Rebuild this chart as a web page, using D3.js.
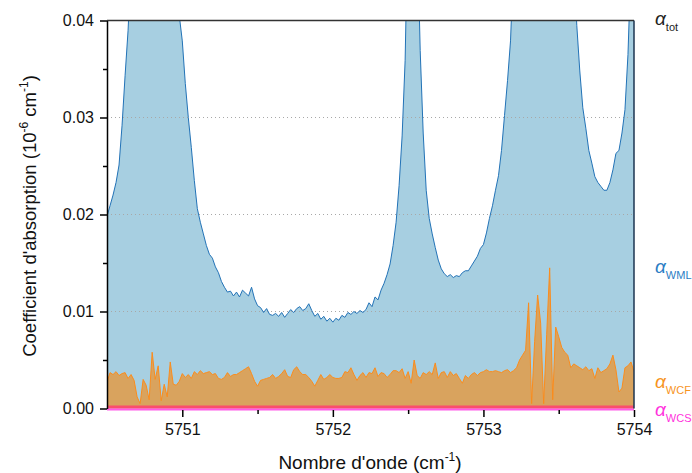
<!DOCTYPE html>
<html>
<head>
<meta charset="utf-8">
<script src="https://cdn.jsdelivr.net/npm/d3@7"></script>
<style>
  body { margin: 0; background: #fff; }
  svg { display: block; font-family: "Liberation Sans", Arial, sans-serif; }
</style>
</head>
<body>
<div id="chart"></div>
<script>
// total absorption (alpha_tot), 10^-6 cm^-1, sampled every 0.02 cm^-1 from 5750.50
var totValues = [.0198,.0209,.0220,.0233,.0251,.0292,.0343,.0390,
  .046,.054,.064,.078,.095,.115,.14,.16,.17,.16,.14,.115,.095,.078,.062,.050,
  .0405,.0379,.0335,.0300,.0269,.0235,.0206,.0192,.0180,.0168,.0159,.0155,.0146,.0140,.0131,.0125,
  .0120,.0121,.0116,.0120,.0115,.0122,.0119,.0116,.0125,.0113,.0106,.0104,.0099,.0103,.0097,.0096,
  .0098,.0095,.0099,.0094,.0098,.0102,.0099,.0103,.0105,.0101,.0103,.0108,.0101,.0095,.0098,.0092,
  .0095,.0090,.0093,.0089,.0093,.0091,.0096,.0094,.0099,.0097,.0100,.0098,.0101,.0099,.0102,.0109,
  .0105,.0115,.0112,.0122,.0129,.0138,.0149,.0168,.0192,.0230,.0281,.0359,
  .052,.075,.070,.050,
  .0369,.0284,.0225,.0196,.0180,.0166,.0153,.0144,.0139,.0136,.0138,.0135,.0137,.0136,.0140,.0142,
  .0142,.0147,.0152,.0157,.0165,.0169,.0181,.0196,.0209,.0225,.0240,.0266,.0302,.0338,.0379,
  .046,.055,.065,.078,.092,.11,.13,.15,.17,.18,.185,.18,.17,.15,.13,.11,.092,.078,.065,.055,.046,
  .0395,.0348,.0310,.0289,.0266,.0253,.0239,.0233,.0229,.0225,.0225,.0233,.0246,.0263,.0266,.0284,
  .0308,.0365,.046,.058];

// water continuum (alpha_WCF), same sampling
var wcfValues = [.0027,.0037,.0035,.0038,.0034,.0036,.0037,.0031,.0035,.0029,
  .0012,.0005,.0030,.0024,.0009,.0058,.0030,.0044,.0008,.0025,
  .0012,.0048,.0025,.0024,.0028,.0036,.0032,.0035,.0031,.0038,
  .0035,.0039,.0036,.0037,.0038,.0035,.0036,.0031,.0030,.0032,
  .0037,.0033,.0035,.0035,.0037,.0039,.0041,.0043,.0036,.0028,
  .0023,.0029,.0030,.0031,.0032,.0035,.0031,.0033,.0036,.0040,
  .0033,.0032,.0040,.0043,.0038,.0035,.0035,.0032,.0028,.0023,
  .0029,.0035,.0030,.0032,.0035,.0032,.0031,.0031,.0032,.0038,
  .0037,.0042,.0035,.0029,.0034,.0037,.0032,.0037,.0036,.0042,
  .0033,.0037,.0036,.0032,.0035,.0039,.0039,.0037,.0041,.0031,
  .0038,.0026,.0050,.0034,.0031,.0037,.0035,.0038,.0035,.0047,
  .0031,.0037,.0038,.0032,.0038,.0034,.0036,.0031,.0026,.0034,
  .0031,.0035,.0037,.0034,.0037,.0038,.0040,.0038,.0038,.0039,
  .0038,.0037,.0039,.0040,.0037,.0039,.0042,.0050,.0055,.0060,
  .0109,.0005,.0069,.0117,.0088,.0005,.0076,.0145,.0009,.0084,
  .0074,.0063,.0058,.0055,.0042,.0046,.0044,.0042,.0040,.0043,
  .0039,.0041,.0031,.0042,.0037,.0039,.0041,.0046,.0055,.0040,
  .0017,.0021,.0042,.0044,.0048,.0038];

// self continuum (alpha_WCS), flat over the window
var wcsWave = [5750.5, 5754];
var wcsValues = [0.0003, 0.0003];

var yTicks = [0, 0.01, 0.02, 0.03, 0.04];
var yMinor = [0.005, 0.015, 0.025, 0.035];
var xTicks = [5751, 5752, 5753, 5754];
var xMinor = [5751.5, 5752.5, 5753.5];

var W = 692, H = 473;
var plotL = 107, plotR = 634, plotT = 20.5, plotB = 408.5;

var n = Math.min(totValues.length, wcfValues.length);
var spectrum = d3.range(n).map(function(i){
  return {wn: 5750.5 + i*0.02, tot: totValues[i], wcf: wcfValues[i]};
});
var wcs = wcsWave.map(function(d, i){ return {wn: d, v: wcsValues[i]}; });

var x = d3.scaleLinear().domain([5750.5, 5754]).range([plotL, plotR]);
var y = d3.scaleLinear().domain([0, 0.04]).range([plotB, plotT]);

var svg = d3.select("#chart").append("svg")
  .attr("width", W).attr("height", H);

svg.append("clipPath").attr("id", "plotclip")
  .append("rect")
  .attr("x", plotL).attr("y", plotT)
  .attr("width", plotR - plotL).attr("height", plotB - plotT + 1);

var plot = svg.append("g").attr("clip-path", "url(#plotclip)");

//total area
plot.append("path").datum(spectrum)
  .attr("fill", "#a7cfe1")
  .attr("d", d3.area().x(d => x(d.wn)).y0(y(0)).y1(d => y(d.tot)));

//dotted grid
plot.selectAll("line.grid").data([0.01, 0.02, 0.03]).enter()
  .append("line").attr("class", "grid")
  .attr("x1", plotL).attr("x2", plotR)
  .attr("y1", d => y(d)).attr("y2", d => y(d))
  .attr("stroke", "#a8a8a8").attr("stroke-width", 1)
  .attr("stroke-dasharray", "1,3");

plot.append("path").datum(spectrum)
  .attr("fill", "none").attr("stroke", "#2272b6").attr("stroke-width", 1)
  .attr("d", d3.line().x(d => x(d.wn)).y(d => y(d.tot)));

//continuum WCF
plot.append("path").datum(spectrum)
  .attr("fill", "#d9a35e")
  .attr("d", d3.area().x(d => x(d.wn)).y0(y(0)).y1(d => y(d.wcf)));
plot.append("path").datum(spectrum)
  .attr("fill", "none").attr("stroke", "#fb8c1c").attr("stroke-width", 1)
  .attr("d", d3.line().x(d => x(d.wn)).y(d => y(d.wcf)));

//continuum WCS
plot.append("path").datum(wcs)
  .attr("fill", "#fa4e6d")
  .attr("d", d3.area().x(d => x(d.wn)).y0(y(0)).y1(d => y(d.v)));
svg.append("line")
  .attr("x1", plotL).attr("x2", plotR)
  .attr("y1", y(0) + 1).attr("y2", y(0) + 1)
  .attr("stroke", "#ff5ce8").attr("stroke-width", 2);

//frame
svg.append("line").attr("x1", plotL).attr("x2", plotR).attr("y1", plotT).attr("y2", plotT)
  .attr("stroke", "#333").attr("stroke-width", 1.5);
svg.append("line").attr("x1", plotR).attr("x2", plotR).attr("y1", plotT).attr("y2", plotB)
  .attr("stroke", "#1d3550").attr("stroke-width", 1.5);

//axes
var yAxis = svg.append("g").attr("transform", `translate(${plotL},0)`)
  .call(d3.axisLeft(y).tickValues(yTicks).tickFormat(d3.format(".2f"))
    .tickSize(7).tickSizeOuter(0).tickPadding(6));
yAxis.select(".domain").attr("stroke", "#000").attr("stroke-width", 1.5);

var yAxisMinor = svg.append("g").attr("transform", `translate(${plotL},0)`)
  .call(d3.axisLeft(y).tickValues(yMinor).tickFormat("").tickSize(4).tickSizeOuter(0));
yAxisMinor.select(".domain").remove();

var xAxis = svg.append("g").attr("transform", `translate(0,${plotB + 1.5})`)
  .call(d3.axisBottom(x).tickValues(xTicks).tickFormat(d3.format("d"))
    .tickSize(7).tickSizeOuter(0).tickPadding(7));
xAxis.select(".domain").remove();

var xAxisMinor = svg.append("g").attr("transform", `translate(0,${plotB + 1.5})`)
  .call(d3.axisBottom(x).tickValues(xMinor).tickFormat("").tickSize(4).tickSizeOuter(0));
xAxisMinor.select(".domain").remove();

svg.selectAll(".tick line").attr("stroke", "#000").attr("stroke-width", 1.5);
svg.selectAll(".tick text")
  .style("font-family", "'Liberation Sans', Arial, sans-serif")
  .style("font-size", "16px").attr("fill", "#111");

//axis titles
var xt = svg.append("text")
  .attr("x", 370).attr("y", 469)
  .attr("text-anchor", "middle")
  .attr("font-size", 19).attr("fill", "#111");
xt.append("tspan").text("Nombre d'onde (cm");
xt.append("tspan").attr("dy", -8).attr("font-size", 12).text("-1");
xt.append("tspan").attr("dy", 8).text(")");

var yt = svg.append("text")
  .attr("transform", "translate(36,216) rotate(-90)")
  .attr("text-anchor", "middle")
  .attr("font-size", 18.5).attr("fill", "#111");
yt.append("tspan").text("Coefficient d'absorption (10");
yt.append("tspan").attr("dy", -8).attr("font-size", 12).text("-6");
yt.append("tspan").attr("dy", 8).text(" cm");
yt.append("tspan").attr("dy", -8).attr("font-size", 12).text("-1");
yt.append("tspan").attr("dy", 8).text(")");

//series labels at the right
var seriesLabels = [
  {sub: "tot", yv: 25, color: "#222"},
  {sub: "WML", yv: 273, color: "#2b7dc4"},
  {sub: "WCF", yv: 388, color: "#f7941d"},
  {sub: "WCS", yv: 416, color: "#ff33dd"}
];
seriesLabels.forEach(function(s){
  var t = svg.append("text")
    .attr("x", 655).attr("y", s.yv)
    .attr("fill", s.color).attr("font-size", 19);
  t.append("tspan").attr("font-style", "italic").text("\u03b1");
  t.append("tspan").attr("dy", 6).attr("font-size", 11).text(s.sub);
});
</script>
</body>
</html>
